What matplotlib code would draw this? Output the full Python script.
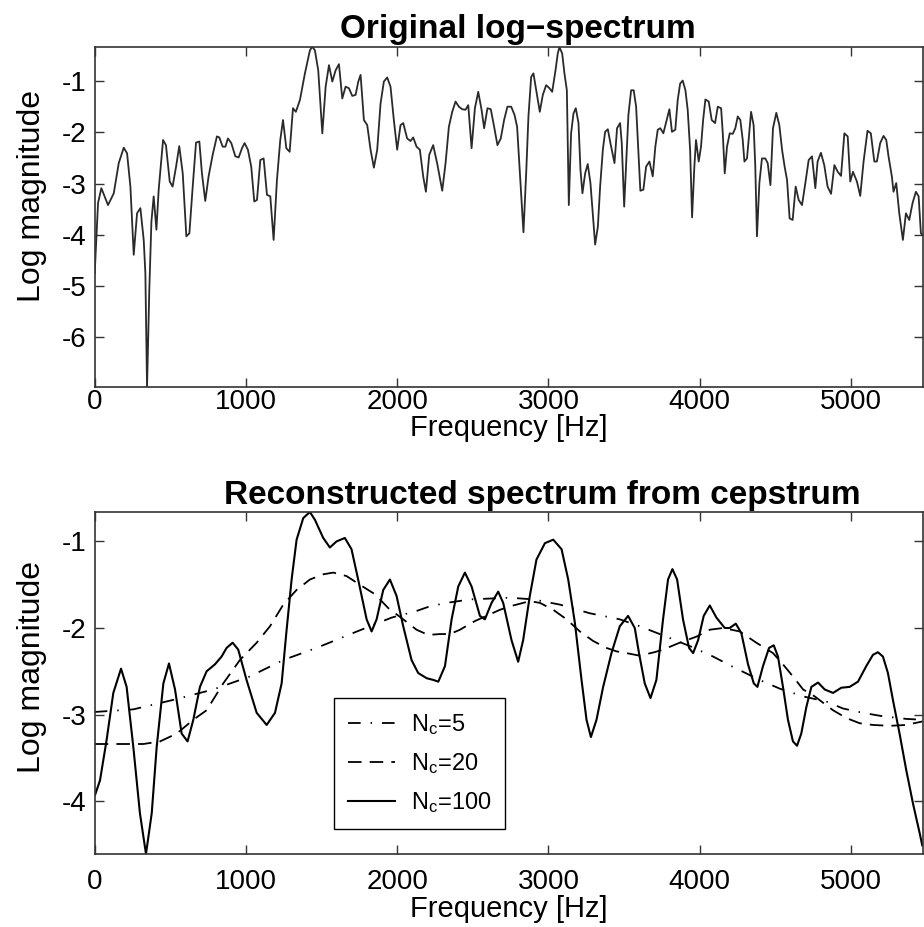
import matplotlib
matplotlib.use("Agg")
import matplotlib.pyplot as plt

plt.rcParams['font.family'] = ['Liberation Sans', 'DejaVu Sans']
plt.rcParams['mathtext.default'] = 'regular'
plt.rcParams['axes.unicode_minus'] = False

# original log-spectrum (Hz, log magnitude)
freq_orig = [0, 22, 44, 88, 126, 159, 192, 214, 236, 258, 280, 302, 324, 335, 346, 361, 375, 390, 408, 423,
             452, 471, 496, 515, 538, 559, 582, 606, 626, 648, 670, 692, 709, 731, 753, 780, 808, 824, 846, 864,
             881, 903, 930, 952, 974, 991, 1013, 1035, 1055, 1073, 1095, 1117, 1139, 1161, 1183, 1205, 1227, 1245,
             1267, 1289, 1311, 1330, 1357, 1390, 1423, 1439, 1456, 1478, 1505, 1527, 1549, 1571, 1593, 1615, 1637,
             1659, 1681, 1703, 1725, 1743, 1758, 1780, 1802, 1824, 1846, 1868, 1890, 1912, 1934, 1956, 1978, 2000,
             2022, 2040, 2066, 2088, 2106, 2128, 2150, 2172, 2190, 2212, 2238, 2264, 2298, 2320, 2342, 2364, 2386,
             2408, 2430, 2452, 2470, 2492, 2514, 2536, 2558, 2575, 2597, 2619, 2641, 2663, 2685, 2707, 2729, 2754,
             2776, 2793, 2809, 2820, 2835, 2853, 2868, 2886, 2901, 2923, 2943, 2963, 2985, 3007, 3025, 3047, 3062,
             3073, 3091, 3106, 3122, 3135, 3150, 3166, 3181, 3199, 3212, 3225, 3243, 3260, 3278, 3293, 3309, 3327,
             3342, 3360, 3375, 3393, 3410, 3437, 3454, 3474, 3485, 3501, 3514, 3529, 3547, 3564, 3580, 3591, 3608,
             3628, 3646, 3668, 3690, 3707, 3723, 3740, 3760, 3782, 3800, 3817, 3839, 3855, 3871, 3888, 3906, 3921,
             3937, 3950, 3965, 3976, 3994, 4009, 4023, 4038, 4060, 4080, 4102, 4120, 4142, 4153, 4166, 4181, 4199,
             4219, 4236, 4252, 4269, 4285, 4296, 4313, 4324, 4340, 4357, 4368, 4379, 4395, 4412, 4434, 4450, 4468,
             4485, 4507, 4527, 4545, 4562, 4578, 4595, 4615, 4635, 4655, 4677, 4699, 4721, 4743, 4765, 4780, 4802,
             4824, 4846, 4869, 4891, 4913, 4935, 4957, 4979, 4996, 5014, 5040, 5062, 5084, 5110, 5132, 5155, 5172,
             5194, 5216, 5234, 5249, 5271, 5282, 5300, 5320, 5344, 5364, 5386, 5408, 5430, 5448, 5463, 5472]
logmag_orig = [-4.75, -3.38, -3.09, -3.42, -3.19, -2.60, -2.30, -2.41, -3.06, -4.39, -3.58, -3.48, -4.10, -4.75,
               -6.98, -5.07, -3.74, -3.25, -3.90, -3.12, -2.15, -2.25, -2.96, -3.06, -2.67, -2.27, -2.80, -4.03,
               -3.97, -3.06, -2.20, -2.18, -2.80, -3.34, -2.86, -2.44, -2.08, -2.10, -2.28, -2.28, -2.12, -2.21,
               -2.47, -2.49, -2.31, -2.21, -2.34, -2.67, -3.35, -3.32, -2.54, -2.51, -3.22, -3.25, -4.10, -2.93,
               -2.15, -1.76, -2.31, -2.38, -1.53, -1.60, -1.37, -0.85, -0.40, -0.33, -0.40, -0.79, -2.02, -1.11,
               -0.69, -1.01, -0.79, -0.67, -1.34, -1.11, -1.14, -1.29, -1.27, -1.01, -0.88, -1.76, -1.86, -2.34,
               -2.69, -2.34, -1.44, -1.01, -0.93, -1.11, -1.76, -2.34, -1.86, -1.82, -2.12, -2.17, -2.10, -2.28,
               -2.34, -2.86, -3.16, -2.44, -2.25, -2.60, -3.14, -2.60, -1.89, -1.60, -1.40, -1.50, -1.55, -1.56,
               -1.47, -2.31, -1.53, -1.21, -1.56, -1.92, -1.53, -1.55, -1.89, -2.25, -2.12, -1.76, -1.50, -1.50,
               -1.66, -1.89, -2.67, -3.19, -3.95, -2.80, -1.69, -0.92, -0.85, -1.24, -1.60, -1.27, -1.08, -1.14,
               -1.21, -0.79, -0.46, -0.34, -0.46, -0.85, -1.18, -3.42, -2.02, -1.63, -1.53, -1.82, -2.73, -3.19,
               -2.80, -2.62, -2.99, -3.58, -4.19, -3.84, -3.06, -2.34, -1.99, -1.94, -2.21, -2.60, -1.92, -1.82,
               -2.21, -3.45, -2.60, -1.66, -1.18, -1.18, -1.50, -2.15, -3.14, -3.12, -2.67, -2.57, -2.86, -2.28,
               -1.95, -1.92, -2.02, -1.76, -1.55, -1.99, -1.95, -1.37, -1.05, -0.99, -1.18, -1.56, -2.34, -3.66,
               -2.67, -2.15, -2.57, -2.28, -1.76, -1.36, -1.40, -1.76, -1.82, -1.50, -1.53, -2.02, -2.80, -2.28,
               -2.02, -2.03, -1.92, -1.69, -1.76, -2.15, -2.57, -2.51, -2.15, -1.60, -1.86, -2.67, -4.03, -2.99,
               -2.51, -2.51, -2.60, -3.03, -1.92, -1.62, -1.86, -2.34, -2.67, -2.93, -3.68, -3.71, -3.06, -3.32,
               -3.42, -2.99, -2.54, -2.47, -3.09, -2.57, -2.40, -2.64, -3.06, -3.20, -2.64, -2.77, -2.85, -2.02,
               -2.08, -2.96, -2.77, -2.96, -3.24, -2.57, -1.97, -2.02, -2.57, -2.57, -2.21, -2.07, -2.15, -2.47,
               -2.86, -3.16, -2.99, -3.58, -4.10, -3.58, -3.71, -3.38, -3.16, -3.25, -3.97, -4.00]

# reconstructed spectra
freq_nc5 = [0, 255, 520, 784, 1026, 1247, 1467, 1720, 1820, 1963, 2117, 2216, 2327, 2481, 2745, 2900, 3076,
            3274, 3472, 3604, 3780, 3950, 4089, 4221, 4397, 4529, 4684, 4838, 4948, 5080, 5212, 5366, 5472]
logmag_nc5 = [-2.97, -2.94, -2.83, -2.71, -2.56, -2.37, -2.23, -2.05, -1.98, -1.88, -1.81, -1.75, -1.71, -1.67,
              -1.65, -1.67, -1.73, -1.83, -1.90, -1.98, -2.10, -2.22, -2.33, -2.45, -2.60, -2.70, -2.79, -2.85,
              -2.93, -2.98, -3.02, -3.05, -3.06]

freq_nc20 = [0, 100, 233, 322, 432, 542, 652, 740, 850, 960, 1071, 1159, 1247, 1335, 1423, 1511, 1577, 1665,
             1753, 1853, 1941, 2040, 2128, 2205, 2283, 2349, 2415, 2514, 2591, 2679, 2745, 2811, 2877, 2944, 3032,
             3120, 3208, 3296, 3384, 3450, 3516, 3604, 3700, 3758, 3868, 3979, 4067, 4155, 4265, 4375, 4485, 4551,
             4617, 4684, 4761, 4882, 4970, 5058, 5146, 5256, 5366, 5472]
logmag_nc20 = [-3.34, -3.34, -3.34, -3.34, -3.31, -3.22, -3.06, -2.95, -2.64, -2.37, -2.17, -1.98, -1.73, -1.56,
               -1.44, -1.38, -1.36, -1.40, -1.50, -1.61, -1.77, -1.90, -2.02, -2.08, -2.07, -2.07, -2.02, -1.92,
               -1.86, -1.79, -1.75, -1.72, -1.69, -1.71, -1.79, -1.90, -2.04, -2.15, -2.23, -2.27, -2.29, -2.32,
               -2.28, -2.25, -2.17, -2.10, -2.02, -2.00, -2.04, -2.17, -2.29, -2.42, -2.56, -2.71, -2.79, -2.95,
               -3.04, -3.10, -3.12, -3.13, -3.12, -3.08]

freq_nc100 = [2, 35, 79, 123, 174, 211, 255, 299, 339, 377, 410, 454, 491, 531, 575, 614, 652, 696, 740, 795,
              839, 872, 912, 949, 1004, 1071, 1137, 1192, 1236, 1269, 1302, 1335, 1379, 1423, 1456, 1511, 1555,
              1599, 1654, 1698, 1742, 1798, 1831, 1864, 1908, 1952, 1996, 2040, 2095, 2139, 2195, 2239, 2272,
              2316, 2360, 2404, 2448, 2492, 2547, 2580, 2624, 2668, 2701, 2756, 2800, 2833, 2877, 2921, 2977,
              3032, 3087, 3131, 3175, 3219, 3252, 3281, 3318, 3362, 3417, 3472, 3527, 3571, 3600, 3637, 3675,
              3714, 3758, 3791, 3820, 3851, 3890, 3930, 3957, 3990, 4027, 4067, 4111, 4166, 4199, 4239, 4276,
              4320, 4358, 4382, 4419, 4459, 4490, 4518, 4551, 4584, 4617, 4644, 4672, 4706, 4739, 4783, 4827,
              4882, 4937, 4992, 5047, 5102, 5146, 5179, 5212, 5245, 5278, 5322, 5366, 5411, 5455, 5472]
logmag_nc100 = [-3.93, -3.76, -3.29, -2.75, -2.47, -2.68, -3.37, -4.14, -4.61, -4.14, -3.37, -2.64, -2.41, -2.71,
                -3.22, -3.31, -3.06, -2.68, -2.50, -2.42, -2.33, -2.23, -2.17, -2.25, -2.60, -2.98, -3.12, -2.98,
                -2.64, -2.02, -1.44, -0.98, -0.73, -0.66, -0.75, -0.96, -1.07, -1.00, -0.96, -1.09, -1.44, -1.90,
                -2.04, -1.90, -1.56, -1.44, -1.63, -1.98, -2.37, -2.52, -2.58, -2.60, -2.62, -2.44, -1.90, -1.52,
                -1.36, -1.52, -1.86, -1.90, -1.71, -1.58, -1.71, -2.14, -2.39, -2.14, -1.63, -1.21, -1.02, -0.98,
                -1.09, -1.44, -1.94, -2.60, -3.06, -3.26, -3.06, -2.68, -2.29, -1.98, -1.86, -2.00, -2.30, -2.64,
                -2.81, -2.60, -1.90, -1.44, -1.32, -1.44, -1.90, -2.23, -2.29, -2.14, -1.86, -1.74, -1.88, -2.00,
                -2.00, -1.95, -2.06, -2.42, -2.64, -2.68, -2.44, -2.23, -2.20, -2.33, -2.68, -3.06, -3.31, -3.36,
                -3.22, -2.91, -2.68, -2.63, -2.71, -2.75, -2.69, -2.68, -2.62, -2.44, -2.31, -2.28, -2.33, -2.52,
                -2.83, -3.22, -3.64, -4.03, -4.37, -4.51]

xticks = [0, 1000, 2000, 3000, 4000, 5000]
fmax = 5475

fig = plt.figure(figsize=(9.24, 9.27), dpi=100)
ax1 = fig.add_axes([0.1025, 0.5825, 0.8961, 0.3671])
ax2 = fig.add_axes([0.1025, 0.0788, 0.8961, 0.3689])


def style(ax, pad, labelpad, ylab_y):
    ax.set_xlim(0, fmax)
    ax.set_xticks(xticks)
    ax.tick_params(direction='in', top=True, right=True, length=6.5, width=1.0,
                   color='#333333', labelsize=20)
    ax.tick_params(axis='x', pad=pad)
    ax.tick_params(axis='y', pad=6)
    for s in ax.spines.values():
        s.set_color('#333333')
        s.set_linewidth(1.2)
    ax.set_xlabel('Frequency [Hz]', fontsize=21, labelpad=labelpad)
    ax.set_ylabel('Log magnitude', fontsize=23)
    ax.yaxis.set_label_coords(-0.058, ylab_y)


ax1.plot(freq_orig, logmag_orig, color='#2a2a2a', lw=1.3)
style(ax1, 1.5, -1, 0.56)
ax1.set_ylim(-6.97, -0.33)
ax1.set_yticks([-6, -5, -4, -3, -2, -1])
ax1.set_title('Original log\u2212spectrum', fontsize=24, fontweight='bold', pad=6, x=0.511)

ax2.plot(freq_nc5, logmag_nc5, color='black', lw=1.3, dashes=(7, 5.5, 0.8, 5.5), label='N$_c$=5')
ax2.plot(freq_nc20, logmag_nc20, color='black', lw=1.3, dashes=(7.5, 4.5), label='N$_c$=20')
ax2.plot(freq_nc100, logmag_nc100, color='black', lw=1.5, label='N$_c$=100')
style(ax2, 11, 0, 0.547)
ax2.set_ylim(-4.61, -0.66)
ax2.set_yticks([-4, -3, -2, -1])
ax2.set_title('Reconstructed spectrum from cepstrum', fontsize=24, fontweight='bold', pad=6, x=0.541)

leg = ax2.legend(loc='lower left', bbox_to_anchor=(0.289, 0.073), fontsize=17, frameon=True,
                 fancybox=False, edgecolor='black', framealpha=1, borderaxespad=0,
                 handlelength=2.0, handletextpad=0.65, borderpad=0.6, labelspacing=0.6)
leg.get_frame().set_linewidth(1.0)

fig.savefig('out.png', dpi=100)
